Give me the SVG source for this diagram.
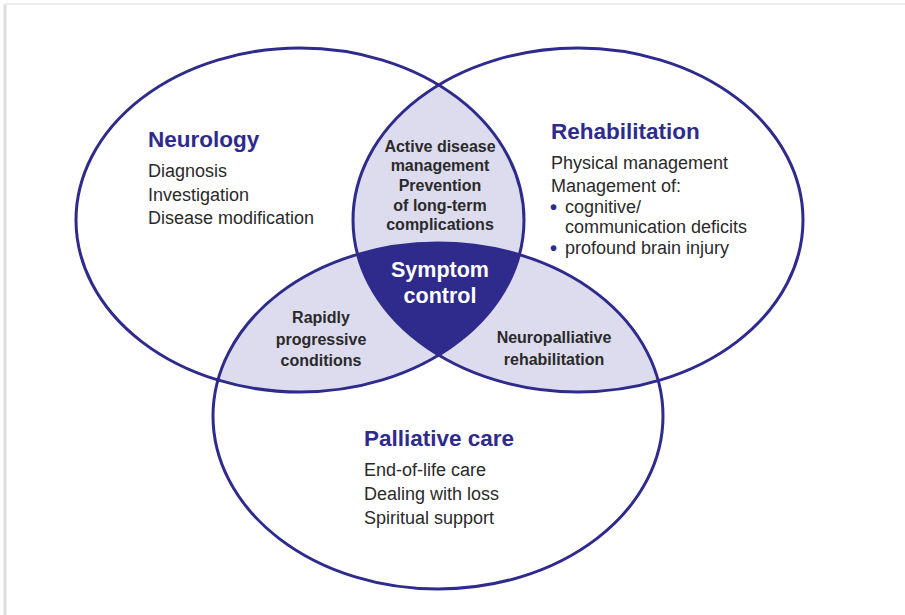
<svg xmlns="http://www.w3.org/2000/svg" width="905" height="615" viewBox="0 0 905 615">
<style>
.ring{fill:none;stroke:#2e2b8c;stroke-width:3}
.head{font-family:"Liberation Sans",Arial,sans-serif;font-weight:bold;font-size:22.5px;fill:#2e2b8c}
.body{font-family:"Liberation Sans",Arial,sans-serif;font-size:18px;fill:#2a2a2a}
.lens{font-family:"Liberation Sans",Arial,sans-serif;font-weight:bold;font-size:16px;fill:#2a2a2a;text-anchor:middle}
.core{font-family:"Liberation Sans",Arial,sans-serif;font-weight:bold;font-size:21.5px;fill:#ffffff;text-anchor:middle}
.bullet{font-family:"Liberation Sans",Arial,sans-serif;font-weight:bold;font-size:20px;fill:#2e2b8c}
</style>
<defs>
<clipPath id="cL"><ellipse cx="300" cy="220" rx="224" ry="172"/></clipPath>
<clipPath id="cR"><ellipse cx="578" cy="220" rx="225" ry="172"/></clipPath>
<clipPath id="cB"><ellipse cx="438" cy="416" rx="225" ry="173"/></clipPath>
</defs>
<rect x="0" y="0" width="905" height="615" fill="#ffffff"/>
<line x1="5" y1="4" x2="5" y2="615" stroke="#dedede" stroke-width="3"/>
<line x1="5" y1="4" x2="905" y2="4" stroke="#ececec" stroke-width="2"/>

<g id="overlaps">
<g clip-path="url(#cL)"><ellipse cx="578" cy="220" rx="225" ry="172" fill="#dddbee"/></g>
<g clip-path="url(#cL)"><ellipse cx="438" cy="416" rx="225" ry="173" fill="#dddbee"/></g>
<g clip-path="url(#cR)"><ellipse cx="438" cy="416" rx="225" ry="173" fill="#dddbee"/></g>
<g clip-path="url(#cL)"><g clip-path="url(#cR)"><ellipse cx="438" cy="416" rx="225" ry="173" fill="#2e2b8c"/></g></g>
</g>

<g id="connectors"></g>

<g id="neurology">
<ellipse class="ring" cx="300" cy="220" rx="224" ry="172"/>
<text class="head" x="148" y="147">Neurology</text>
<text class="body" x="148" y="177">Diagnosis</text>
<text class="body" x="148" y="201">Investigation</text>
<text class="body" x="148" y="224">Disease modification</text>
</g>

<g id="rehabilitation">
<ellipse class="ring" cx="578" cy="220" rx="225" ry="172"/>
<text class="head" x="551" y="139">Rehabilitation</text>
<text class="body" x="551" y="169">Physical management</text>
<text class="body" x="551" y="192">Management of:</text>
<text class="bullet" x="550" y="214">•</text>
<text class="body" x="565" y="213">cognitive/</text>
<text class="body" x="565" y="233">communication deficits</text>
<text class="bullet" x="550" y="255">•</text>
<text class="body" x="565" y="254">profound brain injury</text>
</g>

<g id="palliative">
<ellipse class="ring" cx="438" cy="416" rx="225" ry="173"/>
<text class="head" x="364" y="446">Palliative care</text>
<text class="body" x="364" y="476">End-of-life care</text>
<text class="body" x="364" y="500">Dealing with loss</text>
<text class="body" x="364" y="524">Spiritual support</text>
</g>

<g id="active-disease">
<text class="lens" x="440" y="152">Active disease</text>
<text class="lens" x="440" y="171">management</text>
<text class="lens" x="440" y="191">Prevention</text>
<text class="lens" x="440" y="211">of long-term</text>
<text class="lens" x="440" y="230">complications</text>
</g>

<g id="rapidly-progressive">
<text class="lens" x="321" y="323">Rapidly</text>
<text class="lens" x="321" y="345">progressive</text>
<text class="lens" x="321" y="366">conditions</text>
</g>

<g id="neuropalliative">
<text class="lens" x="554" y="343">Neuropalliative</text>
<text class="lens" x="554" y="365">rehabilitation</text>
</g>

<g id="symptom-control">
<text class="core" x="440" y="277">Symptom</text>
<text class="core" x="440" y="303">control</text>
</g>
</svg>
